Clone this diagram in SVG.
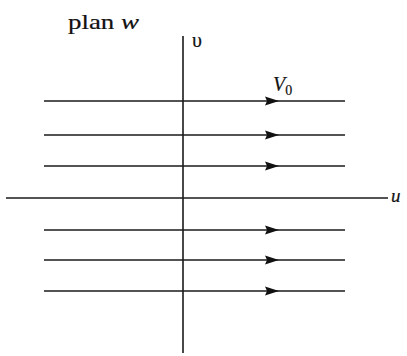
<svg xmlns="http://www.w3.org/2000/svg" xmlns:xlink="http://www.w3.org/1999/xlink" width="407" height="356" viewBox="0 0 407 356">
<style>
.ln{stroke:#1a1a1a;stroke-width:1.6;fill:none}
.ah{fill:#111}
.t{font-family:"Liberation Serif","Times New Roman",serif;fill:#111;stroke:#111;stroke-width:0.2}
.it{font-style:italic}
</style>
<defs>
<path id="ah" d="M-14,-4.5 L0,0 L-14,4.5 L-12,0 Z"/>
</defs>
<rect width="407" height="356" fill="#fff"/>
<g id="axes">
<line class="ln" x1="183" y1="36" x2="183" y2="353"/>
<line class="ln" x1="6" y1="198" x2="388" y2="198"/>
</g>
<g id="connectors">
<line class="ln" x1="44" y1="101" x2="345" y2="101"/>
<line class="ln" x1="44" y1="135" x2="345" y2="135"/>
<line class="ln" x1="44" y1="166" x2="345" y2="166"/>
<line class="ln" x1="44" y1="230" x2="345" y2="230"/>
<line class="ln" x1="44" y1="260" x2="345" y2="260"/>
<line class="ln" x1="44" y1="291" x2="345" y2="291"/>
<use class="ah" xlink:href="#ah" x="279" y="101"/>
<use class="ah" xlink:href="#ah" x="279" y="135"/>
<use class="ah" xlink:href="#ah" x="279" y="166"/>
<use class="ah" xlink:href="#ah" x="279" y="230"/>
<use class="ah" xlink:href="#ah" x="279" y="260"/>
<use class="ah" xlink:href="#ah" x="279" y="291"/>
</g>
<g id="labels">
<text class="t" x="68" y="29" font-size="22" textLength="71" lengthAdjust="spacingAndGlyphs">plan <tspan class="it">w</tspan></text>
<text class="t" x="192" y="47" font-size="20">υ</text>
<text class="t it" x="273" y="91" font-size="20">V<tspan font-style="normal" font-size="14" dy="4">0</tspan></text>
<text class="t it" x="391" y="202" font-size="19">u</text>
</g>
</svg>
